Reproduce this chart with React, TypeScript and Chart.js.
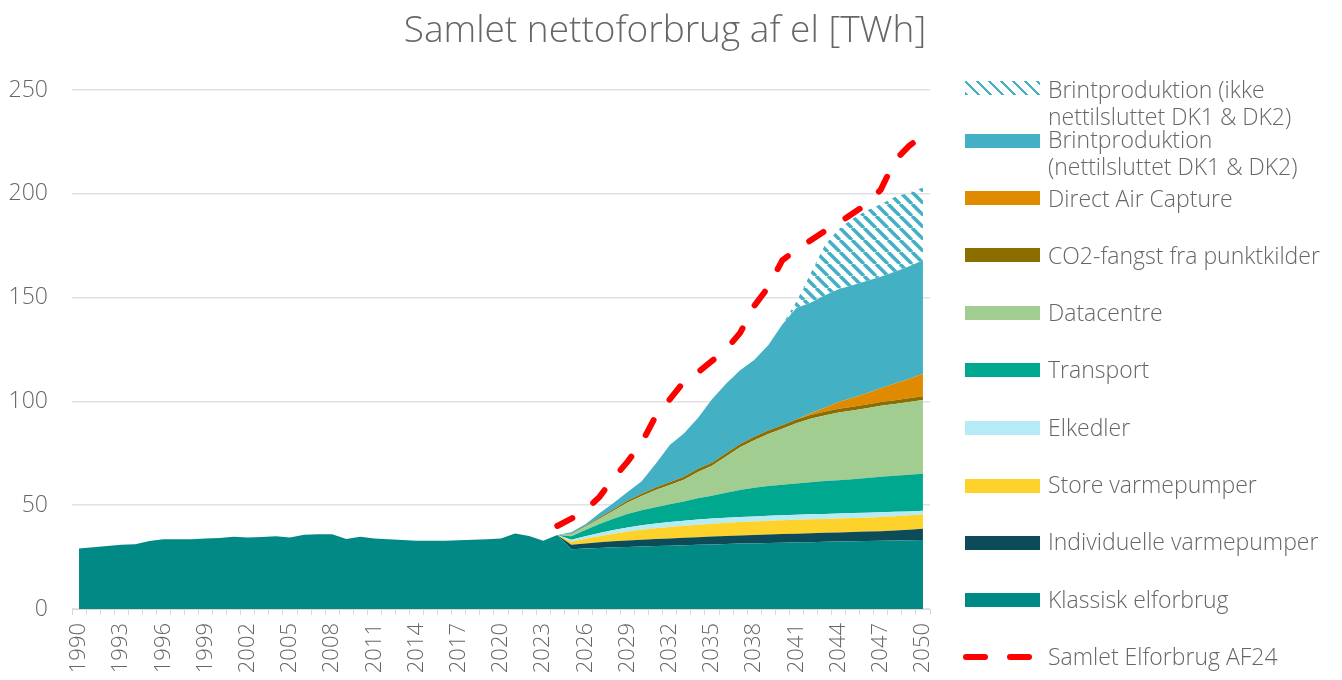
import React, { useEffect, useRef } from "react";
import { Chart, registerables } from "chart.js";

Chart.register(...registerables);

// ---------- DATA ----------
const years: string[] = Array.from({ length: 61 }, (_, i) => String(1990 + i));
const xTickEvery = 3;
const yTicks = { min: 0, max: 250, step: 50 };

// 1990-2050
const klassisk = [
  29.2, 29.8, 30.3, 31.0, 31.2, 32.8, 33.6, 33.6, 33.6, 34.0,
  34.2, 34.8, 34.5, 34.7, 35.0, 34.5, 35.8, 36.0, 36.0, 33.7,
  34.8, 33.9, 33.6, 33.2, 32.9, 32.9, 32.9, 33.1, 33.4, 33.6,
  34.0, 36.4, 35.2, 32.9, 35.6,
  28.8, 29.1, 29.4, 29.7, 29.9, 30.1, 30.3, 30.5, 30.7, 30.9,
  31.1, 31.3, 31.5, 31.6, 31.8, 31.9, 32.1, 32.2, 32.4, 32.5,
  32.6, 32.7, 32.9, 33.0, 33.1, 33.2,
];
// 2024-2050
const individuelle = [0, 2.2, 2.5, 2.7, 2.9, 3.1, 3.2, 3.4, 3.5, 3.6, 3.7, 3.8, 3.9, 3.9, 4.1, 4.1, 4.2, 4.2, 4.3, 4.3, 4.4, 4.5, 4.6, 4.6, 4.8, 5.1, 5.5];
const storeVP = [0, 1.4, 2.2, 3.0, 3.7, 4.3, 4.9, 5.2, 5.5, 5.8, 6.0, 6.2, 6.3, 6.5, 6.5, 6.6, 6.7, 6.7, 6.7, 6.7, 6.7, 6.7, 6.7, 6.8, 6.9, 6.9, 6.8];
const elkedler = [0, 0.9, 1.2, 1.5, 1.7, 2.0, 2.2, 2.3, 2.4, 2.4, 2.5, 2.5, 2.5, 2.4, 2.4, 2.4, 2.4, 2.4, 2.4, 2.4, 2.4, 2.4, 2.4, 2.3, 2.1, 1.9, 1.8];
const transport = [0, 1.7, 3.0, 4.4, 5.5, 6.5, 7.2, 7.8, 8.6, 9.3, 10.2, 11.0, 12.0, 13.0, 13.8, 14.3, 14.6, 15.1, 15.5, 15.8, 16.0, 16.3, 16.7, 17.1, 17.4, 17.7, 17.8];
const datacentre = [0, 1.0, 1.6, 2.5, 3.8, 5.5, 6.8, 8.3, 9.2, 10.5, 12.7, 14.4, 17.4, 20.6, 22.9, 25.1, 27.0, 29.0, 30.6, 31.6, 32.7, 33.1, 33.6, 34.2, 34.6, 35.0, 35.6];
const co2Fangst = [0, 0.2, 0.4, 0.6, 0.8, 1.0, 1.1, 1.2, 1.3, 1.4, 1.5, 1.5, 1.6, 1.6, 1.7, 1.7, 1.7, 1.8, 1.8, 1.8, 1.8, 1.8, 1.8, 1.8, 1.8, 1.8, 1.8];
const directAir = [0, 0, 0, 0, 0, 0, 0, 0, 0, 0, 0, 0, 0, 0, 0, 0, 0, 0, 0.8, 1.8, 3.2, 4.3, 5.4, 6.6, 8.0, 9.3, 10.8];
const brintNet = [0, 0.8, 0.8, 2.0, 3.0, 4.0, 6.0, 11.5, 18.0, 20.8, 24.5, 30.5, 33.5, 35.5, 37.0, 41.0, 48.5, 53.7, 53.2, 54.2, 54.3, 54.3, 54.1, 53.7, 53.9, 54.2, 54.7];
const brintIkkeNet = [0, 0, 0, 0, 0, 0, 0, 0, 0, 0, 0, 0, 0, 0, 0, 0, 0, 3, 14, 24, 29, 32, 34, 35, 36, 35.5, 35];
const samletAF24 = [40, 43.5, 47.5, 54, 63, 71, 80, 93, 101, 109.5, 114, 119.5, 125, 133, 146, 155, 168, 173, 177.5, 182, 186, 190.5, 195, 202, 216, 223, 228];

const firstForecastIndex = 34; // 2024
const pad = (arr: number[]) => [...Array(firstForecastIndex).fill(null), ...arr];

const names = {
  klassisk: "Klassisk elforbrug",
  individuelle: "Individuelle varmepumper",
  store: "Store varmepumper",
  elkedler: "Elkedler",
  transport: "Transport",
  datacentre: "Datacentre",
  co2: "CO2-fangst fra punktkilder",
  dac: "Direct Air Capture",
  brintNet: "Brintproduktion (nettilsluttet DK1 & DK2)",
  brintIkke: "Brintproduktion (ikke nettilsluttet DK1 & DK2)",
  samlet: "Samlet Elforbrug AF24",
};
// legend line breaks as in the reference
const legendLines: Record<string, string[]> = {
  [names.brintIkke]: ["Brintproduktion (ikke", "nettilsluttet DK1 & DK2)"],
  [names.brintNet]: ["Brintproduktion", "(nettilsluttet DK1 & DK2)"],
};
const titleText = "Samlet nettoforbrug af el [TWh]";

// ---------- STYLE ----------
const colors = {
  klassisk: "#008985",
  individuelle: "#0e4b59",
  store: "#fdd22b",
  elkedler: "#b5ebf4",
  transport: "#00a88f",
  datacentre: "#a1cd90",
  co2: "#8c6d00",
  dac: "#e08a00",
  brint: "#43b0c4",
  red: "#ff0000",
};
const textColor = "#666666";
const FONT = "'Open Sans', sans-serif";
const W = 300;

export default function App() {
  const ref = useRef<HTMLCanvasElement>(null);

  useEffect(() => {
    const canvas = ref.current!;
    const ctx = canvas.getContext("2d")!;
    Chart.defaults.font.family = FONT;

    const pc = document.createElement("canvas");
    pc.width = 12;
    pc.height = 12;
    const g = pc.getContext("2d")!;
    g.strokeStyle = colors.brint;
    g.lineWidth = 3.5;
    for (const k of [-12, 0, 12]) {
      g.beginPath();
      g.moveTo(k, 0);
      g.lineTo(k + 12, 12);
      g.stroke();
    }
    const hatch = ctx.createPattern(pc, "repeat")!;

    const area = (label: string, data: (number | null)[], color: any, fill: any) => ({
      label,
      data,
      backgroundColor: color,
      borderColor: color,
      borderWidth: 0,
      pointRadius: 0,
      fill,
      stack: "s",
      tension: 0,
    });

    const chart = new Chart(ctx, {
      type: "line",
      data: {
        labels: years,
        datasets: [
          area(names.klassisk, klassisk, colors.klassisk, "origin"),
          area(names.individuelle, pad(individuelle), colors.individuelle, "-1"),
          area(names.store, pad(storeVP), colors.store, "-1"),
          area(names.elkedler, pad(elkedler), colors.elkedler, "-1"),
          area(names.transport, pad(transport), colors.transport, "-1"),
          area(names.datacentre, pad(datacentre), colors.datacentre, "-1"),
          area(names.co2, pad(co2Fangst), colors.co2, "-1"),
          area(names.dac, pad(directAir), colors.dac, "-1"),
          area(names.brintNet, pad(brintNet), colors.brint, "-1"),
          area(names.brintIkke, pad(brintIkkeNet), hatch, "-1"),
          {
            label: names.samlet,
            data: pad(samletAF24),
            borderColor: colors.red,
            backgroundColor: colors.red,
            borderWidth: 6,
            borderDash: [17, 26],
            borderCapStyle: "round",
            pointRadius: 0,
            fill: false,
            stack: "total",
            order: -1,
            tension: 0,
          } as any,
        ],
      },
      options: {
        animation: false,
        responsive: false,
        devicePixelRatio: 1,
        layout: { padding: { top: 90, right: 412, left: 0, bottom: 0 } },
        plugins: {
          legend: { display: false },
          title: { display: false },
          tooltip: { enabled: false },
        },
        scales: {
          x: {
            type: "category",
            offset: true,
            grid: {
              offset: true,
              drawOnChartArea: false,
              drawTicks: true,
              tickLength: 6,
              color: "#d9d9d9",
              lineWidth: 1,
            },
            border: { display: true, color: "#d9d9d9", width: 1 },
            ticks: {
              autoSkip: false,
              minRotation: 90,
              maxRotation: 90,
              padding: 8,
              color: textColor,
              font: { size: 22, family: FONT, weight: W },
              callback: (_v: any, i: number) => (i % xTickEvery === 0 ? years[i] : ""),
            },
            afterFit: (s: any) => {
              s.height = 71;
            },
          },
          y: {
            stacked: true,
            min: yTicks.min,
            max: yTicks.max,
            ticks: {
              stepSize: yTicks.step,
              padding: 24,
              color: textColor,
              font: { size: 23, family: FONT, weight: W },
            },
            grid: { drawTicks: false, color: "#e2e2e2", lineWidth: 1.5 },
            border: { display: false },
            afterFit: (s: any) => {
              s.width = 72;
            },
          },
        },
      } as any,
    });
    return () => chart.destroy();
  }, []);

  const legendItems: { name: string; sw: string; swY: number; textY: number }[] = [
    { name: names.brintIkke, sw: "hatch", swY: 87.5, textY: 75.8 },
    { name: names.brintNet, sw: colors.brint, swY: 141, textY: 126.3 },
    { name: names.dac, sw: colors.dac, swY: 198, textY: 184.5 },
    { name: names.co2, sw: colors.co2, swY: 255.3, textY: 241.8 },
    { name: names.datacentre, sw: colors.datacentre, swY: 312.5, textY: 299.1 },
    { name: names.transport, sw: colors.transport, swY: 370, textY: 356.4 },
    { name: names.elkedler, sw: colors.elkedler, swY: 428, textY: 413.7 },
    { name: names.store, sw: colors.store, swY: 485.5, textY: 471 },
    { name: names.individuelle, sw: colors.individuelle, swY: 543, textY: 528.3 },
    { name: names.klassisk, sw: colors.klassisk, swY: 600, textY: 585.6 },
    { name: names.samlet, sw: "dash", swY: 656.7, textY: 642.9 },
  ];

  return (
    <div
      style={{
        position: "fixed",
        left: 0,
        top: 0,
        width: 1342,
        height: 680,
        background: "#fff",
        fontFamily: FONT,
        fontWeight: W,
        overflow: "hidden",
      }}
    >
      <canvas ref={ref} width={1342} height={680} style={{ position: "absolute", left: 0, top: 0 }} />
      <div
        style={{
          position: "absolute",
          left: 0,
          width: 1330,
          top: 9,
          textAlign: "center",
          fontSize: 37,
          lineHeight: "37px",
          color: textColor,
          whiteSpace: "nowrap",
        }}
      >
        {titleText}
      </div>
      {legendItems.map((it, i) => (
        <React.Fragment key={i}>
          {it.sw === "dash" ? (
            <>
              <div style={{ position: "absolute", left: 963, top: it.swY - 3, width: 25, height: 6, borderRadius: 3, background: colors.red }} />
              <div style={{ position: "absolute", left: 1007, top: it.swY - 3, width: 25, height: 6, borderRadius: 3, background: colors.red }} />
            </>
          ) : (
            <div
              style={{
                position: "absolute",
                left: 965,
                top: it.swY - 7,
                width: 75,
                height: 14,
                background:
                  it.sw === "hatch"
                    ? `repeating-linear-gradient(45deg, ${colors.brint} 0px, ${colors.brint} 2.5px, transparent 2.5px, transparent 8.5px)`
                    : it.sw,
              }}
            />
          )}
          <div
            style={{
              position: "absolute",
              left: 1048,
              top: it.textY,
              fontSize: 23,
              lineHeight: "27px",
              color: textColor,
              whiteSpace: "nowrap",
            }}
          >
            {(legendLines[it.name] || [it.name]).map((ln, j) => (
              <div key={j}>{ln}</div>
            ))}
          </div>
        </React.Fragment>
      ))}
    </div>
  );
}
